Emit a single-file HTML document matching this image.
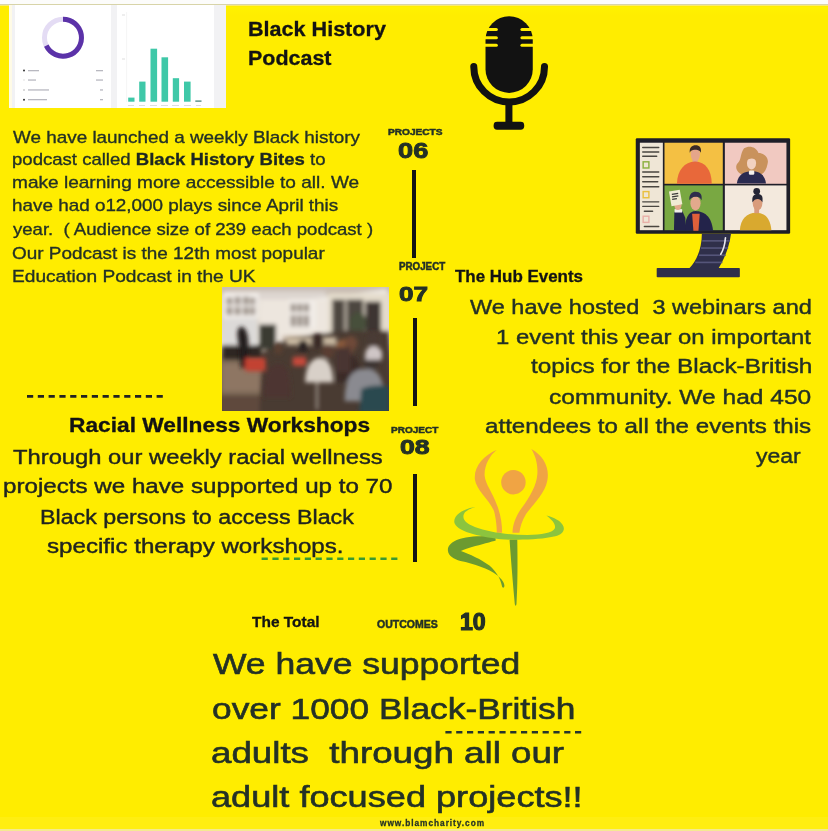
<!DOCTYPE html>
<html><head><meta charset="utf-8">
<style>
html,body{margin:0;padding:0;}
body{width:828px;height:831px;position:relative;overflow:hidden;background:#ffed00;font-family:"Liberation Sans",sans-serif;}
.t{position:absolute;white-space:nowrap;transform-origin:0 0;}
.t b{font-weight:700;color:#1c2620}
.a{position:absolute;}
</style></head><body>
<!-- top white strip -->
<div class="a" style="left:0;top:0;width:828px;height:4px;background:#fcfcfa"></div>
<div class="a" style="left:0;top:4px;width:828px;height:1.2px;background:#d8d4a8"></div>
<div class="a" style="left:226px;top:5.2px;width:602px;height:1.3px;background:#f8ea70"></div>
<div class="a" style="left:0;top:5.2px;width:8.5px;height:1.3px;background:#f8ea70"></div>
<div class="a" style="left:226px;top:6.5px;width:602px;height:8px;background:linear-gradient(#fff200,#ffed00)"></div>
<!-- screenshot -->
<div class="a" style="left:8.5px;top:5px;width:217.5px;height:103px;background:#f2f2f4"></div>
<div class="a" style="left:8.5px;top:5px;width:3px;height:103px;background:#fffbe6"></div>
<div class="a" style="left:14.5px;top:5px;width:96px;height:103px;background:#ffffff"></div>
<div class="a" style="left:117px;top:5px;width:96.5px;height:103px;background:#ffffff"></div>
<svg class="a" style="left:0;top:0" width="230" height="110" viewBox="0 0 230 110">
  <circle cx="63" cy="37.7" r="18.5" fill="none" stroke="#e4dcf4" stroke-width="5"/>
  <path d="M63 19.2 A18.5 18.5 0 1 1 46.3 45.7" fill="none" stroke="#5b32a8" stroke-width="5"/>
  <g><circle cx="24" cy="70.6" r="1" fill="#333"/><circle cx="24" cy="80" r="0.8" fill="#ddd"/><circle cx="24" cy="90" r="0.8" fill="#aaa"/><circle cx="24" cy="99.7" r="1" fill="#333"/></g>
  <g fill="#b8b8c0"><rect x="28" y="70" width="11" height="1.3"/><rect x="28" y="79.4" width="8" height="1.3"/><rect x="28" y="89.3" width="21" height="1.3"/><rect x="28" y="99" width="19" height="1.3"/>
  <rect x="96" y="70" width="7" height="1.3"/><rect x="96" y="79.4" width="7" height="1.3"/><rect x="100" y="89.3" width="3" height="1.3"/><rect x="100" y="99" width="3" height="1.3"/></g>
  <g fill="#ddd"><rect x="122" y="14.5" width="3" height="1"/><rect x="122" y="58.5" width="3" height="1"/><rect x="126.5" y="12" width="0.6" height="90" fill="#eee"/></g>
  <g fill="#3fc8a8">
   <rect x="128.2" y="97.6" width="6.3" height="4.1"/>
   <rect x="139.2" y="81.6" width="6.3" height="20.1"/>
   <rect x="150.5" y="48.7" width="6.6" height="53"/>
   <rect x="161.5" y="57.3" width="6.6" height="44.4"/>
   <rect x="172.8" y="78.2" width="6.3" height="23.5"/>
   <rect x="184" y="81.6" width="6.6" height="20.1"/>
   <rect x="195.3" y="100.5" width="6.2" height="1.2" fill="#3a7a70"/>
  </g>
  <g fill="#ddd"><rect x="128" y="105" width="6" height="1"/><rect x="139" y="105" width="6" height="1"/><rect x="150" y="105" width="7" height="1"/><rect x="161" y="105" width="7" height="1"/><rect x="172" y="105" width="7" height="1"/><rect x="184" y="105" width="7" height="1"/><rect x="196" y="105" width="5" height="1"/></g>
</svg>
<!-- vertical lines -->
<div class="a" style="left:412px;top:170px;width:4.2px;height:88.4px;background:#141414"></div>
<div class="a" style="left:412.7px;top:317.7px;width:4.2px;height:88px;background:#141414"></div>
<div class="a" style="left:412.9px;top:474.4px;width:4.3px;height:87.6px;background:#141414"></div>
<!-- dashed lines -->
<svg class="a" style="left:0;top:380px" width="828" height="360" viewBox="0 380 828 360">
  <line x1="27" y1="396.4" x2="167" y2="396.4" stroke="#222" stroke-width="2.8" stroke-dasharray="6.2 4.6"/>
  <line x1="261.6" y1="558.7" x2="399.5" y2="558.7" stroke="#3a9a30" stroke-width="2.6" stroke-dasharray="6.2 4.6"/>
  <line x1="445.4" y1="732.3" x2="584" y2="732.3" stroke="#26352c" stroke-width="2.4" stroke-dasharray="6.2 4.6"/>
</svg>
<!-- mic -->
<svg class="a" style="left:460px;top:10px" width="100" height="130" viewBox="0 0 639 831">
  <rect x="163" y="40" width="302" height="490" rx="151" fill="#121212"/>
  <g stroke="#ffed00" stroke-width="20" stroke-linecap="round">
   <line x1="150" y1="125" x2="232" y2="125"/><line x1="150" y1="177" x2="232" y2="177"/><line x1="150" y1="225" x2="232" y2="225"/>
   <line x1="396" y1="125" x2="480" y2="125"/><line x1="396" y1="177" x2="480" y2="177"/><line x1="396" y1="225" x2="480" y2="225"/>
  </g>
  <path d="M88 362 A226 226 0 0 0 540 362" fill="none" stroke="#121212" stroke-width="45" stroke-linecap="round"/>
  <rect x="290" y="580" width="45" height="150" fill="#121212"/>
  <rect x="215" y="715" width="195" height="50" rx="22" fill="#121212"/>
</svg>
<!-- monitor -->
<svg class="a" style="left:630px;top:130px" width="170" height="155" viewBox="0 0 828 755">
  <rect x="28" y="40" width="752" height="465" rx="6" fill="#1e1e28"/>
  <rect x="48" y="62" width="112" height="426" fill="#efe6d6"/>
  <g stroke="#4a4640" stroke-width="7" stroke-linecap="round">
   <line x1="62" y1="85" x2="140" y2="85"/><line x1="62" y1="107" x2="140" y2="107"/><line x1="62" y1="128" x2="130" y2="128"/>
   <line x1="62" y1="205" x2="140" y2="205"/><line x1="62" y1="228" x2="140" y2="228"/><line x1="62" y1="252" x2="135" y2="252"/><line x1="62" y1="276" x2="140" y2="276"/>
   <line x1="62" y1="350" x2="140" y2="350"/><line x1="62" y1="372" x2="140" y2="372"/><line x1="70" y1="396" x2="110" y2="396"/>
   <line x1="70" y1="470" x2="140" y2="470"/>
  </g>
  <rect x="64" y="155" width="28" height="30" fill="none" stroke="#8cb040" stroke-width="7"/>
  <rect x="64" y="300" width="28" height="30" fill="none" stroke="#e8c040" stroke-width="7"/>
  <rect x="64" y="420" width="28" height="30" fill="none" stroke="#e8b0a8" stroke-width="7"/>
  <!-- tiles -->
  <rect x="168" y="62" width="284" height="200" fill="#f4c043"/>
  <rect x="462" y="62" width="300" height="200" fill="#f1c9c1"/>
  <rect x="168" y="270" width="284" height="218" fill="#79a842"/>
  <rect x="462" y="270" width="300" height="218" fill="#f3e9dd"/>
  <!-- person 1 -->
  <g transform="translate(146.1,38.96) scale(0.4117)">
   <rect x="385" y="240" width="60" height="60" fill="#e0a08a"/>
   <path d="M200 540 C205 380 290 282 415 278 C540 282 610 380 612 540 Z" fill="#e8683a"/>
   <ellipse cx="418" cy="195" rx="55" ry="78" fill="#e5a58a"/>
   <path d="M352 175 C345 110 380 85 420 85 C470 85 490 110 485 175 C470 140 430 135 420 140 C400 135 365 140 352 175Z" fill="#3a2a28"/>
  </g>
  <!-- person 2 -->
  <g transform="translate(438.3,24.35) scale(0.5863)">
   <path d="M200 110 C240 85 300 95 320 150 C370 150 410 190 395 240 C385 290 365 320 335 332 L180 325 C140 312 118 262 150 230 C178 208 168 150 200 110 Z" fill="#c9925c"/>
   <path d="M140 402 C150 332 200 302 262 302 C330 302 375 332 382 402 Z" fill="#2a2a50"/>
   <rect x="240" y="295" width="45" height="35" rx="10" fill="#f4f0ec"/>
   <ellipse cx="262" cy="232" rx="38" ry="55" fill="#f2d2c0"/>
   <path d="M222 215 C225 170 250 160 275 165 C300 175 305 200 302 215 C290 190 245 185 222 215Z" fill="#c9925c"/>
  </g>
  <!-- person 3 -->
  <g transform="translate(146.1,243.5) scale(0.4117)">
   <path d="M290 602 C300 420 350 372 420 366 C520 372 610 420 628 602 Z" fill="#23234a"/>
   <path d="M380 400 L470 400 L455 602 L395 602 Z" fill="#e0603a"/>
   <path d="M165 602 L170 375 L265 370 L300 450 L305 602 Z" fill="#23234a"/>
   <rect x="172" y="345" width="90" height="40" fill="#f0eee8"/>
   <ellipse cx="212" cy="300" rx="42" ry="55" fill="#e3a98c"/>
   <rect x="120" y="125" width="130" height="175" fill="#f0ecd4" transform="rotate(-10 185 212)"/>
   <g stroke="#3a3a3a" stroke-width="16"><line x1="140" y1="170" x2="215" y2="158"/><line x1="142" y1="200" x2="217" y2="188"/><line x1="144" y1="230" x2="200" y2="221"/></g>
   <ellipse cx="420" cy="275" rx="60" ry="85" fill="#e3a98c"/>
   <path d="M348 240 C340 170 380 140 420 140 C480 140 500 175 492 240 C478 205 440 195 425 200 C400 195 365 210 348 240Z" fill="#2e2e4c"/>
  </g>
  <!-- person 4 -->
  <g transform="translate(438.3,24.35) scale(0.5863)">
   <path d="M165 792 C170 700 220 645 300 645 C380 645 420 700 427 792 Z" fill="#d9a92f"/>
   <rect x="285" y="600" width="40" height="50" fill="#d89a7e"/>
   <circle cx="305" cy="468" r="28" fill="#252535"/>
   <ellipse cx="312" cy="568" rx="40" ry="58" fill="#d99c7c"/>
   <path d="M270 560 C262 505 285 490 312 490 C345 490 360 505 352 560 C340 525 290 520 270 560Z" fill="#252535"/>
  </g>
  <!-- stand -->
  <path d="M350 505 L492 505 C482 580 452 640 432 672 L290 672 C322 640 350 580 350 505Z" fill="#2f2f4a"/>
  <g stroke="#55557a" stroke-width="8"><line x1="352" y1="540" x2="486" y2="540"/><line x1="346" y1="575" x2="478" y2="575"/><line x1="336" y1="610" x2="466" y2="610"/><line x1="318" y1="645" x2="450" y2="645"/></g>
  <path d="M465 525 C462 560 455 585 442 605" stroke="#e8e8f0" stroke-width="8" fill="none" stroke-linecap="round"/>
  <rect x="130" y="672" width="405" height="45" rx="4" fill="#2f2f4a"/>
</svg>
<!-- photo -->
<svg class="a" style="left:0;top:0" width="828" height="831" viewBox="0 0 828 831">
  <defs>
    <clipPath id="pc"><rect x="222" y="287" width="167" height="124"/></clipPath>
    <filter id="bl" x="-5%" y="-5%" width="110%" height="110%"><feGaussianBlur stdDeviation="11"/></filter>
    <linearGradient id="pg" x1="0" y1="0" x2="0" y2="1">
      <stop offset="0" stop-color="#d6cabc"/><stop offset="0.45" stop-color="#e6ddd2"/><stop offset="0.6" stop-color="#8c7060"/><stop offset="1" stop-color="#4a3a30"/>
    </linearGradient>
  </defs>
  <g clip-path="url(#pc)">
   <g transform="translate(220,285) scale(0.2077)">
    <rect x="0" y="0" width="830" height="620" fill="url(#pg)"/>
    <g filter="url(#bl)">
     <rect x="0" y="0" width="830" height="50" fill="#c9bdb2"/><rect x="180" y="30" width="330" height="60" fill="#ddd6d0"/><path d="M230 95 L800 20 L815 60 L240 120Z" fill="#f2eee8"/>
     <rect x="190" y="70" width="330" height="220" fill="#ede6de"/>
     <rect x="15" y="35" width="170" height="125" fill="#f4f0ec"/><circle cx="85" cy="70" r="18" fill="#ffffff"/>
     <g fill="#a0968e"><rect x="30" y="60" width="30" height="35"/><rect x="70" y="55" width="30" height="40"/><rect x="110" y="55" width="30" height="40"/><rect x="145" y="60" width="25" height="35"/><rect x="30" y="105" width="30" height="40"/><rect x="70" y="105" width="30" height="40"/><rect x="110" y="105" width="30" height="40"/><rect x="145" y="105" width="25" height="40"/></g>
     <rect x="330" y="70" width="130" height="140" fill="#f2ede8"/>
     <g fill="#9a9088"><rect x="340" y="90" width="25" height="40"/><rect x="372" y="90" width="25" height="40"/><rect x="404" y="90" width="25" height="40"/><rect x="340" y="145" width="25" height="55"/><rect x="372" y="145" width="25" height="55"/><rect x="404" y="145" width="25" height="55"/></g>
     <rect x="520" y="40" width="300" height="210" fill="#e4dccc"/>
     <rect x="540" y="70" width="150" height="170" fill="#4e4640"/><rect x="600" y="70" width="10" height="170" fill="#cfc6b8"/>
     <rect x="700" y="80" width="75" height="160" fill="#3e3630"/>
     <ellipse cx="665" cy="185" rx="40" ry="55" fill="#46503a"/>
     <rect x="15" y="160" width="165" height="135" fill="#dcdad8"/>
     <rect x="10" y="290" width="190" height="80" fill="#2e2622"/>
     <rect x="0" y="360" width="420" height="260" fill="#7e6a58"/>
     <rect x="10" y="380" width="200" height="130" fill="#8e7664"/>
     <rect x="0" y="530" width="420" height="90" fill="#5e4a3c"/>
     <rect x="300" y="245" width="280" height="50" fill="#c8b8a8"/>
     <path d="M190 620 L200 330 L300 270 L450 240 L600 220 L815 220 L830 620 Z" fill="#4a3a32"/>
     <rect x="190" y="190" width="80" height="120" fill="#3a3a32"/>
    </g>
    <g filter="url(#bl)">
     <rect x="320" y="250" width="240" height="40" fill="#c8b8a0"/>
     <ellipse cx="600" cy="300" rx="45" ry="40" fill="#8a5a3a"/>
     <path d="M560 470 C560 380 590 340 620 340 C660 340 680 380 680 470Z" fill="#3a2a28"/>
     <rect x="462" y="440" width="10" height="160" fill="#a89e96"/>
     <ellipse cx="520" cy="320" rx="30" ry="35" fill="#5a3e32"/>
     <path d="M85 250 C80 200 100 195 115 205 C130 220 140 260 135 300 L130 400 L100 400 L95 320 Z" fill="#241c1c"/>
     <rect x="120" y="350" width="100" height="65" rx="10" fill="#c24232"/>
     <rect x="350" y="345" width="65" height="45" rx="8" fill="#c44a3a"/>
     <ellipse cx="280" cy="305" rx="22" ry="28" fill="#5a4030"/>
     <ellipse cx="400" cy="295" rx="25" ry="30" fill="#2a2020"/>
     <ellipse cx="470" cy="270" rx="30" ry="35" fill="#3a2a26"/>
     <ellipse cx="630" cy="280" rx="32" ry="35" fill="#6e4a38"/>
     <ellipse cx="740" cy="265" rx="30" ry="40" fill="#4a3a36"/>
     <ellipse cx="730" cy="360" rx="40" ry="50" fill="#3e3430"/>
     <path d="M410 470 C410 380 450 350 480 350 C520 350 545 390 545 470 Z" fill="#d8d0c8"/>
     <path d="M600 560 C600 440 640 405 700 405 C760 405 790 440 790 560 Z" fill="#8a8a90"/>
     <path d="M670 620 L680 500 C720 480 780 480 815 490 L815 620 Z" fill="#2a4a50"/>
     <path d="M210 540 C210 420 240 380 280 380 C320 380 340 420 340 540 Z" fill="#4e3430"/>
     <path d="M700 330 C700 290 760 280 780 320 L780 360 L700 360Z" fill="#cfc6c6"/>
     <rect x="560" y="300" width="70" height="120" fill="#4a3430"/>
    </g>
   </g>
  </g>
</svg>
<!-- yoga -->
<svg class="a" style="left:0;top:0" width="828" height="831" viewBox="0 0 828 831">
  <g transform="translate(445,445) scale(0.13286)">
    <path d="M390 35 C290 80 215 160 225 260 C235 340 340 420 370 500 C385 560 390 620 390 660 L430 660 C430 600 420 520 390 450 C360 360 305 300 298 230 C295 150 340 75 390 35 Z" fill="#f0a444"/>
    <path d="M650 30 C740 80 790 170 770 270 C750 370 660 450 610 520 C580 570 565 620 560 660 L508 660 C510 600 530 540 580 470 C640 390 690 300 695 220 C700 140 680 80 650 30 Z" fill="#f0a444"/>
    <circle cx="515" cy="280" r="92" fill="#f0a444"/>
  </g>
  <g transform="translate(445,525) scale(0.09662)">
    <path d="M520 115 C400 112 250 115 150 145 C70 170 25 215 30 265 C35 320 90 355 160 372 C300 400 450 450 540 520 C590 560 615 600 615 630 C614 655 592 655 588 625 C575 560 530 480 460 420 C380 355 250 300 165 268 C220 245 330 215 420 190 C470 175 510 165 525 160 Z" fill="#6c9a30"/>
    <path d="M668 150 L748 150 C752 400 752 620 740 815 C737 842 725 842 722 815 C705 620 685 400 668 150 Z" fill="#6c9a30"/>
  </g>
  <g transform="translate(445,505) scale(0.13286)">
    
    
    <path d="M230 15 C150 25 65 70 70 130 C80 195 250 238 420 258 C560 266 720 262 830 236 C885 225 910 185 885 148 C865 118 825 95 763 79 C805 110 840 150 825 178 C805 210 730 222 620 225 C480 225 330 205 225 165 C150 135 120 100 150 55 C175 35 200 22 230 15 Z" fill="#8cc43e"/>
  </g>
</svg>

<div class="a" style="left:0;top:817px;width:828px;height:12px;background:#fff030;opacity:0.35"></div>
<div class="a" style="left:0;top:829px;width:828px;height:2px;background:#f4ea90"></div>

<div class="t" style="left:247.64px;top:19.25px;font-size:20.290px;line-height:20.290px;font-weight:700;color:#131313;letter-spacing:0px;-webkit-text-stroke:0.30px #131313;transform:scaleX(1.0636)">Black History</div>
<div class="t" style="left:247.64px;top:48.25px;font-size:20.290px;line-height:20.290px;font-weight:700;color:#131313;letter-spacing:0px;-webkit-text-stroke:0.30px #131313;transform:scaleX(1.0577)">Podcast</div>
<div class="t" style="left:13.30px;top:128.62px;font-size:17.391px;line-height:17.391px;font-weight:400;color:#243126;letter-spacing:0px;-webkit-text-stroke:0.35px #243126;transform:scaleX(1.0862)">We have launched a weekly Black history</div>
<div class="t" style="left:12.23px;top:151.42px;font-size:17.391px;line-height:17.391px;font-weight:400;color:#243126;letter-spacing:0px;-webkit-text-stroke:0.35px #243126;transform:scaleX(1.0678)">podcast called <b>Black History Bites</b> to</div>
<div class="t" style="left:12.20px;top:174.42px;font-size:17.391px;line-height:17.391px;font-weight:400;color:#243126;letter-spacing:0px;-webkit-text-stroke:0.35px #243126;transform:scaleX(1.0971)">make learning more accessible to all. We</div>
<div class="t" style="left:12.21px;top:197.42px;font-size:17.391px;line-height:17.391px;font-weight:400;color:#243126;letter-spacing:0px;-webkit-text-stroke:0.35px #243126;transform:scaleX(1.0860)">have had o12,000 plays since April this</div>
<div class="t" style="left:13.30px;top:221.42px;font-size:17.391px;line-height:17.391px;font-weight:400;color:#243126;letter-spacing:0px;-webkit-text-stroke:0.35px #243126;transform:scaleX(1.0682)">year.&nbsp; ( Audience size of 239 each podcast )</div>
<div class="t" style="left:12.21px;top:245.42px;font-size:17.391px;line-height:17.391px;font-weight:400;color:#243126;letter-spacing:0px;-webkit-text-stroke:0.35px #243126;transform:scaleX(1.0902)">Our Podcast is the 12th most popular</div>
<div class="t" style="left:12.20px;top:268.42px;font-size:17.391px;line-height:17.391px;font-weight:400;color:#243126;letter-spacing:0px;-webkit-text-stroke:0.35px #243126;transform:scaleX(1.1014)">Education Podcast in the UK</div>
<div class="t" style="left:387.50px;top:128.24px;font-size:9.130px;line-height:9.130px;font-weight:700;color:#243126;letter-spacing:0px;-webkit-text-stroke:0.50px #243126;transform:scaleX(1.1082)">PROJECTS</div>
<div class="t" style="left:398.40px;top:138.86px;font-size:22.754px;line-height:22.754px;font-weight:700;color:#243126;letter-spacing:0px;-webkit-text-stroke:0.90px #243126;transform:scaleX(1.1960)">06</div>
<div class="t" style="left:399.00px;top:262.10px;font-size:10.000px;line-height:10.000px;font-weight:700;color:#243126;letter-spacing:0px;-webkit-text-stroke:0.50px #243126;transform:scaleX(0.9771)">PROJECT</div>
<div class="t" style="left:399.00px;top:284.46px;font-size:20.870px;line-height:20.870px;font-weight:700;color:#243126;letter-spacing:0px;-webkit-text-stroke:0.90px #243126;transform:scaleX(1.2522)">07</div>
<div class="t" style="left:391.20px;top:424.95px;font-size:9.710px;line-height:9.710px;font-weight:700;color:#243126;letter-spacing:0px;-webkit-text-stroke:0.50px #243126;transform:scaleX(1.0326)">PROJECT</div>
<div class="t" style="left:400.20px;top:436.56px;font-size:20.870px;line-height:20.870px;font-weight:700;color:#243126;letter-spacing:0px;-webkit-text-stroke:0.90px #243126;transform:scaleX(1.2783)">08</div>
<div class="t" style="left:455.00px;top:268.55px;font-size:15.942px;line-height:15.942px;font-weight:700;color:#131313;letter-spacing:0px;-webkit-text-stroke:0.30px #131313;transform:scaleX(1.0625)">The Hub Events</div>
<div class="t" style="left:470.20px;top:297.01px;font-size:20.580px;line-height:20.580px;font-weight:400;color:#243126;letter-spacing:0px;-webkit-text-stroke:0.41px #243126;transform:scaleX(1.1418)">We have hosted&nbsp; 3 webinars and</div>
<div class="t" style="left:495.64px;top:327.21px;font-size:20.580px;line-height:20.580px;font-weight:400;color:#243126;letter-spacing:0px;-webkit-text-stroke:0.41px #243126;transform:scaleX(1.1616)">1 event this year on important</div>
<div class="t" style="left:531.30px;top:356.21px;font-size:20.580px;line-height:20.580px;font-weight:400;color:#243126;letter-spacing:0px;-webkit-text-stroke:0.41px #243126;transform:scaleX(1.1827)">topics for the Black-British</div>
<div class="t" style="left:549.41px;top:386.81px;font-size:20.580px;line-height:20.580px;font-weight:400;color:#243126;letter-spacing:0px;-webkit-text-stroke:0.41px #243126;transform:scaleX(1.1918)">community. We had 450</div>
<div class="t" style="left:485.43px;top:415.81px;font-size:20.580px;line-height:20.580px;font-weight:400;color:#243126;letter-spacing:0px;-webkit-text-stroke:0.41px #243126;transform:scaleX(1.1733)">attendees to all the events this</div>
<div class="t" style="left:756.00px;top:445.51px;font-size:20.580px;line-height:20.580px;font-weight:400;color:#243126;letter-spacing:0px;-webkit-text-stroke:0.41px #243126;transform:scaleX(1.1175)">year</div>
<div class="t" style="left:69.34px;top:416.17px;font-size:19.565px;line-height:19.565px;font-weight:700;color:#131313;letter-spacing:0px;-webkit-text-stroke:0.30px #131313;transform:scaleX(1.1630)">Racial Wellness Workshops</div>
<div class="t" style="left:13.30px;top:446.50px;font-size:20.000px;line-height:20.000px;font-weight:400;color:#202420;letter-spacing:0px;-webkit-text-stroke:0.40px #202420;transform:scaleX(1.1878)">Through our weekly racial wellness</div>
<div class="t" style="left:3.09px;top:476.20px;font-size:20.000px;line-height:20.000px;font-weight:400;color:#202420;letter-spacing:0px;-webkit-text-stroke:0.40px #202420;transform:scaleX(1.2078)">projects we have supported up to 70</div>
<div class="t" style="left:40.34px;top:506.70px;font-size:20.000px;line-height:20.000px;font-weight:400;color:#202420;letter-spacing:0px;-webkit-text-stroke:0.40px #202420;transform:scaleX(1.1617)">Black persons to access Black</div>
<div class="t" style="left:47.10px;top:536.10px;font-size:20.000px;line-height:20.000px;font-weight:400;color:#202420;letter-spacing:0px;-webkit-text-stroke:0.40px #202420;transform:scaleX(1.2070)">specific therapy workshops.</div>
<div class="t" style="left:251.50px;top:614.68px;font-size:14.493px;line-height:14.493px;font-weight:700;color:#131313;letter-spacing:0px;-webkit-text-stroke:0.30px #131313;transform:scaleX(1.0667)">The Total</div>
<div class="t" style="left:376.50px;top:618.91px;font-size:11.159px;line-height:11.159px;font-weight:700;color:#243126;letter-spacing:0px;-webkit-text-stroke:0.50px #243126;transform:scaleX(0.9453)">OUTCOMES</div>
<div class="t" style="left:459.62px;top:611.34px;font-size:23.478px;line-height:23.478px;font-weight:700;color:#243126;letter-spacing:0px;-webkit-text-stroke:1.20px #243126;transform:scaleX(0.9840)">10</div>
<div class="t" style="left:213.30px;top:649.66px;font-size:28.986px;line-height:28.986px;font-weight:400;color:#243126;letter-spacing:0px;-webkit-text-stroke:0.58px #243126;transform:scaleX(1.2253)">We have supported</div>
<div class="t" style="left:212.08px;top:695.06px;font-size:28.986px;line-height:28.986px;font-weight:400;color:#243126;letter-spacing:0px;-webkit-text-stroke:0.58px #243126;transform:scaleX(1.2199)">over 1000 Black-British</div>
<div class="t" style="left:210.73px;top:739.16px;font-size:28.986px;line-height:28.986px;font-weight:400;color:#243126;letter-spacing:0px;-webkit-text-stroke:0.58px #243126;transform:scaleX(1.2673)">adults&nbsp; through all our</div>
<div class="t" style="left:210.75px;top:782.66px;font-size:28.986px;line-height:28.986px;font-weight:400;color:#243126;letter-spacing:0px;-webkit-text-stroke:0.58px #243126;transform:scaleX(1.2475)">adult focused projects!!</div>
<div class="t" style="left:379.70px;top:818.37px;font-size:9.565px;line-height:9.565px;font-weight:700;color:#243126;letter-spacing:1.1px;-webkit-text-stroke:0.30px #243126;transform:scaleX(0.8706)">www.blamcharity.com</div>
</body></html>
